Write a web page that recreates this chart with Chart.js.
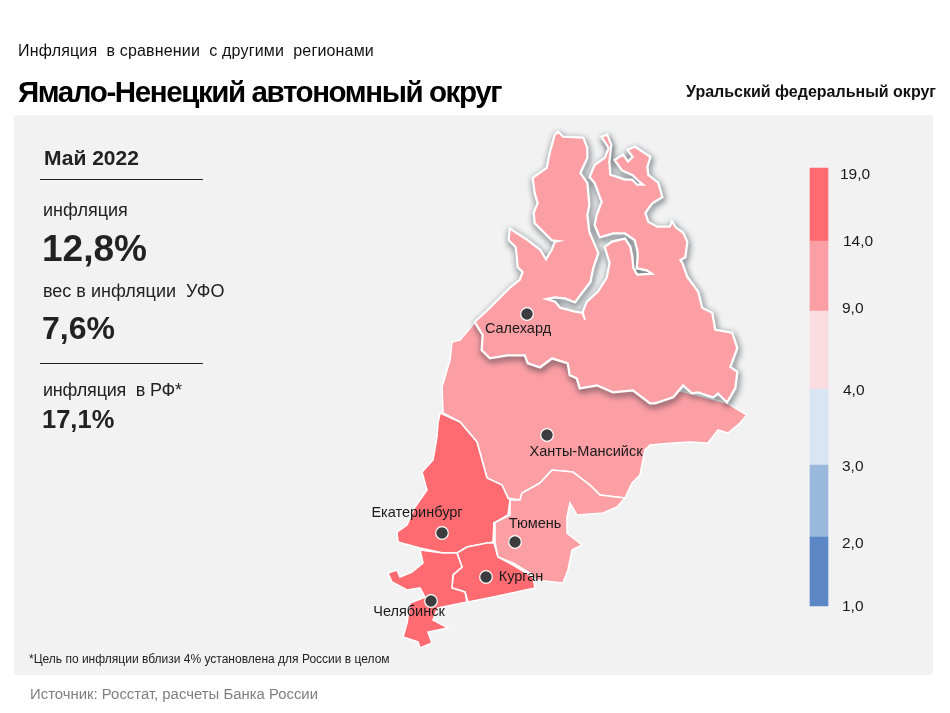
<!DOCTYPE html>
<html lang="ru"><head><meta charset="utf-8">
<script src="https://cdn.jsdelivr.net/npm/chart.js@4"></script>
<style>
html,body{margin:0;padding:0;background:#fff;overflow:hidden}
#page{position:relative;width:950px;height:713px;font-family:"Liberation Sans",Arial,sans-serif;color:#111}
#panel{position:absolute;left:14px;top:115px;width:919px;height:560px;background:#f2f2f2;border-radius:3px}
canvas{position:absolute;left:0;top:0}
.t{position:absolute;white-space:pre;transform:translateY(-50%);line-height:1}
.r{position:absolute;left:40px;width:163px;height:1px;background:#222}
</style></head><body>
<div id="page"><div id="panel"></div>
<div style="position:absolute;left:0;top:0;width:950px;height:713px"><canvas id="c" width="950" height="713"></canvas></div>
<div class="t" style="left:18px;top:51px;font-size:16px;letter-spacing:.17px">Инфляция  в сравнении  с другими  регионами</div>
<div class="t" style="left:18px;top:92px;font-size:29.5px;font-weight:700;letter-spacing:-1.4px;color:#000">Ямало-Ненецкий автономный округ</div>
<div class="t" style="right:14px;top:92px;font-size:16px;font-weight:700">Уральский федеральный округ</div>
<div class="t" style="left:44px;top:157px;font-size:21px;font-weight:700;color:#222">Май 2022</div>
<div class="r" style="top:179px"></div>
<div class="t" style="left:43px;top:210px;font-size:18px;color:#222">инфляция</div>
<div class="t" style="left:42px;top:248px;font-size:37px;font-weight:700;color:#222">12,8%</div>
<div class="t" style="left:43px;top:291px;font-size:18px;color:#222">вес в инфляции  УФО</div>
<div class="t" style="left:42px;top:328px;font-size:32px;font-weight:700;color:#222">7,6%</div>
<div class="r" style="top:363px"></div>
<div class="t" style="left:43px;top:390px;font-size:18px;letter-spacing:-.2px;color:#222">инфляция  в РФ*</div>
<div class="t" style="left:42px;top:420px;font-size:25.5px;font-weight:700;color:#222">17,1%</div>
<div class="t" style="left:29px;top:659px;font-size:12px;color:#222">*Цель по инфляции вблизи 4% установлена для России в целом</div>
<div class="t" style="left:30px;top:694px;font-size:14.9px;color:#7f7f7f">Источник: Росстат, расчеты Банка России</div>
</div>
<script>
// Legend scale: band limits, their labels, and colours (top to bottom)
const legendTicks = ["19,0","14,0","9,0","4,0","3,0","2,0","1,0"];
const legendEdges = [168,241,311,389,465,537,606];
const legendTickX = [840,843,842,843,842,842,842];
const legendTickY = [175,242,309,391,467,544,607];
const bandColors = ["#ff6b70","#fc9fa5","#fbdce0","#dae5f4","#9ab8dc","#5b88c4"];

// Region outlines (map units) as x,y pairs
const yamal = [475,322,488,310,500,298,510,288,520,280,523,272,518,267,517,255,516,247,509,240,510,229,527,240,540,250,546,260,552,250,555,242,560,241,552,240,543,231,535,223,534,213,538,203,535,193,533,178,547,168,550,153,555,135,558,132,563,137,583,138,587,148,587,158,580,173,587,183,589,205,587,215,589,232,598,253,593,268,590,282,580,295,575,302,565,298,555,297,545,299,555,302,560,308,575,312,582,313,585,320,583,312,587,302,598,292,607,278,610,263,605,247,612,242,625,239,630,247,632,257,633,268,637,275,653,274,647,270,637,268,638,258,638,252,635,240,625,233,613,233,600,237,595,225,597,215,602,202,595,183,590,177,595,165,605,158,609,148,602,137,607,135,611,145,609,162,610,175,625,180,632,180,637,185,644,185,638,180,633,175,622,170,615,160,623,155,628,162,633,157,628,150,635,147,650,157,647,167,648,175,658,183,662,197,652,203,645,213,648,222,657,227,670,227,672,222,676,228,683,233,687,242,685,257,680,260,682,263,687,277,698,292,702,308,712,313,715,330,732,333,737,348,730,367,737,372,735,388,727,402,718,393,713,397,698,392,692,393,683,385,673,397,655,403,650,403,633,390,613,392,597,385,580,388,577,378,570,375,568,363,552,358,540,367,528,363,525,355,507,355,490,358,482,350,483,335];
const khanty = [475,322,460,340,452,342,450,360,442,387,443,413,460,422,477,442,482,460,487,478,502,485,508,498,520,500,522,493,540,483,552,470,573,472,590,485,600,495,625,498,632,483,640,475,645,450,650,445,673,443,690,442,708,443,718,430,728,433,740,423,747,415,727,403,600,370,500,340];
const sverdlovsk = [440,413,438,423,437,437,433,460,422,472,427,490,415,507,407,525,397,532,398,542,420,548,443,553,457,553,467,547,493,542,494,523,508,515,510,500,508,498,502,485,487,478,482,460,477,442,460,422];
const chelyabinsk = [420,550,423,563,412,572,400,577,397,570,388,573,392,582,407,590,420,588,425,597,410,603,407,623,403,637,418,642,420,648,432,643,428,632,448,628,433,620,438,608,467,602,465,592,452,588,453,575,462,567,457,553,443,553];
const kurgan = [457,553,462,567,453,575,452,588,465,592,468,602,493,597,535,588,533,577,513,565,498,557,494,543,487,543,467,547];
const tyumen = [510,500,510,515,494,523,495,543,498,557,513,563,533,575,535,580,563,583,568,570,572,550,582,545,567,533,567,517,570,503,577,515,603,513,617,507,625,498,600,495,590,485,573,472,552,470,540,483,522,493,520,500];

// Cities
const cityNames = ["Салехард","Ханты-Мансийск","Екатеринбург","Тюмень","Курган","Челябинск"];
const cityX = [527,547,442,515,486,431];
const cityY = [314,435,533,542,577,601];
const cityLabelX = [518,586,417,535,521,409];
const cityLabelY = [329,452,513,524,577,612];

const pts = a => { const o=[]; for(let i=0;i<a.length;i+=2) o.push({x:a[i],y:a[i+1]}); o.push({x:a[0],y:a[1]}); return o; };
const region = (a,color,order) => ({type:'scatter',data:pts(a),showLine:true,fill:'shape',backgroundColor:color,borderColor:'#fff',borderWidth:1.6,pointRadius:0,tension:0,order});

const shadowPlugin = {id:'shadow',
  beforeDatasetDraw(chart,args){ if(chart.data.datasets[args.index].castShadow){const x=chart.ctx;x.save();x.shadowColor='rgba(35,45,55,.95)';x.shadowBlur=6;x.shadowOffsetX=1;x.shadowOffsetY=2.5;} },
  afterDatasetDraw(chart,args){ if(chart.data.datasets[args.index].castShadow) chart.ctx.restore(); }
};
const labelPlugin = {id:'labels',afterDatasetsDraw(chart){
  const x=chart.ctx, sx=chart.scales.x, sy=chart.scales.y;
  x.save(); x.fillStyle='#1a1a1a'; x.textBaseline='middle';
  x.textAlign='center'; x.font='14.5px "Liberation Sans"';
  cityNames.forEach((n,i)=>x.fillText(n,sx.getPixelForValue(cityLabelX[i]),sy.getPixelForValue(cityLabelY[i])));
  x.textAlign='left'; x.font='15.5px "Liberation Sans"';
  legendTicks.forEach((n,i)=>x.fillText(n,sx.getPixelForValue(legendTickX[i]),sy.getPixelForValue(legendTickY[i])));
  x.restore();
}};

new Chart(document.getElementById('c'),{
  type:'scatter',
  data:{datasets:[
    {type:'scatter',data:cityX.map((v,i)=>({x:v,y:cityY[i]})),pointRadius:6.3,pointBackgroundColor:'#3d3d3f',pointBorderColor:'#fff',pointBorderWidth:1.2,showLine:false,order:1},
    region(yamal,bandColors[1],2),
    {type:'scatter',data:pts(yamal),showLine:true,fill:false,borderColor:'#fff',borderWidth:3,pointRadius:0,tension:0,castShadow:true,order:3},
    region(tyumen,bandColors[1],4),
    region(chelyabinsk,bandColors[0],5),
    region(kurgan,bandColors[0],5),
    region(sverdlovsk,bandColors[0],6),
    region(khanty,bandColors[1],7),
    {type:'bar',data:bandColors.map((c,i)=>({x:819,y:[legendEdges[i],legendEdges[i+1]]})),backgroundColor:bandColors,barThickness:18,grouped:false,order:8}
  ]},
  options:{responsive:false,animation:false,devicePixelRatio:1,
    layout:{padding:0,autoPadding:false},
    plugins:{legend:{display:false},tooltip:{enabled:false},title:{display:false}},
    events:[],
    scales:{
      x:{type:'linear',min:0,max:950,display:false,offset:false},
      y:{type:'linear',min:0,max:713,reverse:true,display:false}
    }},
  plugins:[shadowPlugin,labelPlugin]
});
</script></body></html>
